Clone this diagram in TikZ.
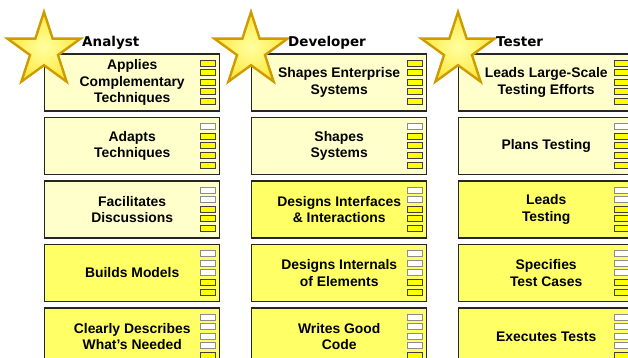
\documentclass[tikz,border=0pt]{standalone}
\usepackage{fontspec}
\usepackage{tikz}
\usetikzlibrary{calc,shapes.geometric}
\newfontfamily\cardfont{Liberation Sans}
\newfontfamily\rolefont{DejaVu Sans}
\definecolor{palefill}{RGB}{255,255,204}
\definecolor{brightfill}{RGB}{255,255,102}
\definecolor{stargold}{RGB}{206,155,0}
\definecolor{starfill}{RGB}{255,232,64}
\definecolor{starlight}{RGB}{255,255,160}
\definecolor{tickfill}{RGB}{255,255,0}
\tikzset{
	card/.style={draw=black!85, line width=1.4pt, minimum width=175pt, minimum height=57pt, inner sep=0pt, align=center, anchor=north west, font=\cardfont\bfseries\fontsize{13.9}{16.5}\selectfont},
	pale/.style={card, fill=palefill},
	bright/.style={card, fill=brightfill},
	tickon/.style={draw=black!75, fill=tickfill, line width=0.7pt},
	tickoff/.style={draw=black!45, fill=white, line width=0.7pt},
	badge/.style={star, star points=5, star point ratio=2.618, minimum size=77pt, inner sep=0pt, draw=stargold, line width=2.4pt, inner color=starlight, outer color=starfill},
	role/.style={anchor=base west, inner sep=0pt, font=\rolefont\bfseries\fontsize{13.5}{16}\selectfont}
}
% five level marks on the right of a card, #2 of them left empty
\def\levels(#1)#2{%
	\foreach \k in {1,...,5}{%
		\ifnum\k>#2 \draw[tickon] ($(#1.north west)+(156,{6.7+(\k-1)*9.6})$) rectangle ++(15,6);
		\else \draw[tickoff] ($(#1.north west)+(156,{6.7+(\k-1)*9.6})$) rectangle ++(15,6);
		\fi}}

\begin{document}
\begin{tikzpicture}[x=1pt, y=-1pt]
			\useasboundingbox (0,0) rectangle (628,358);
			%%%%% ANALYST %%%%%
			\node[pale] (a1) at (44, 53.3) {Applies\\Complementary\\Techniques};
			\node[pale] (a2) at (44, 116.8) {Adapts\\Techniques};
			\node[pale] (a3) at (44, 180.3) {Facilitates\\Discussions};
			\node[bright] (a4) at (44, 243.8) {Builds Models};
			\node[bright] (a5) at (44, 307.3) {Clearly Describes\\What’s Needed};
			\levels(a1){0} \levels(a2){1} \levels(a3){2} \levels(a4){3} \levels(a5){4}
			
			%%%%% DEVELOPER %%%%%
			\node[pale] (d1) at (251, 53.3) {Shapes Enterprise\\Systems};
			\node[pale] (d2) at (251, 116.8) {Shapes\\Systems};
			\node[bright] (d3) at (251, 180.3) {Designs Interfaces\\\& Interactions};
			\node[bright] (d4) at (251, 243.8) {Designs Internals\\of Elements};
			\node[bright] (d5) at (251, 307.3) {Writes Good\\Code};
			\levels(d1){0} \levels(d2){1} \levels(d3){2} \levels(d4){3} \levels(d5){4}
			
			%%%%% TESTER %%%%%
			\node[pale] (t1) at (458, 53.3) {Leads Large-Scale\\Testing Efforts};
			\node[pale] (t2) at (458, 116.8) {Plans Testing};
			\node[bright] (t3) at (458, 180.3) {Leads\\Testing};
			\node[bright] (t4) at (458, 243.8) {Specifies\\Test Cases};
			\node[bright] (t5) at (458, 307.3) {Executes Tests};
			\levels(t1){0} \levels(t2){1} \levels(t3){2} \levels(t4){3} \levels(t5){4}
			
			%%%%% STARS AND ROLES %%%%%
			\node[badge] (sa) at (44, 50.5) {};
			\node[badge] (sd) at (251, 50.5) {};
			\node[badge] (st) at (458, 50.5) {};
			\node[role] (ra) at (82, 47) {Analyst};
			\node[role] (rd) at (288, 47) {Developer};
			\node[role] (rt) at (496, 47) {Tester};
		\end{tikzpicture}
\end{document}
